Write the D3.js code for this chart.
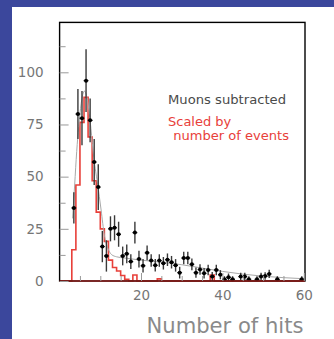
<!DOCTYPE html>
<html>
<head>
<meta charset="utf-8">
<script src="https://cdn.jsdelivr.net/npm/d3@7"></script>
<style>
  html, body { margin: 0; padding: 0; background: #3b479c; }
  svg { display: block; }
  .tick text { font-family: "DejaVu Sans", sans-serif; }
</style>
</head>
<body>
<svg id="chart" width="334" height="339"></svg>
<script>
// Bin centres (hit counts) of the background-subtracted distribution
const binCenters = [3.5,4.5,5.5,6.5,7.5,8.5,9.5,10.5,11.5,12.5,13.5,14.5,15.5,16.5,17.5,18.5,19.5,20.5,
  21.5,22.5,23.5,24.5,25.5,26.5,27.5,28.5,29.5,30.5,31.5,32.5,33.5,34.5,35.5,36.5,37.5,38.5,39.5,40.5,
  41.5,42.5,44.5,45.5,46.5,48.5,49.5,50.5,51.5,53.5,59.5];
// Entries per bin, muons subtracted
const muonSubtracted = [35,80,78,96,77,57,45,16.5,12,25,25.5,22.4,12,13,9.3,23.2,10.5,7.3,
  13.5,9.8,7.5,9.8,8.5,10.2,9,7.5,4,11,11,8,4,5.5,3.7,5.3,2.1,5.3,3,0.8,
  1.8,0.8,2.1,2.1,0.8,0.8,2.1,2.4,3.4,0.8,0.8];
// Statistical uncertainty per bin
const muonErrors = [7.5,12,13,15,10.5,11,11,7.5,7.5,6,6,6,4.5,4.5,3.5,5.2,4,3.2,
  3.5,3,3,3,3,3,3,3,2.8,3,3,2.8,2.5,2.5,2.5,2.5,2.2,2.5,2.2,1.5,
  1.8,1.5,1.8,1.8,1.5,1.5,1.8,1.8,2,1.5,1.5];

// Reference histogram scaled by number of events (unit-width bins starting at 0)
const scaledEdges = d3.range(0, 61);
const scaledCounts = [0,0,0,15,46,76,88,69,48,33,25,19,10,6.5,4.8,2.6,0.8,0,2.9,0,
  0,0,0,0,1,0,0,0,0,0,0,0,0,0,0,0,0,2.8,0,0,
  0,0,0,0,0,0,0,0,0,0,0,0,0,0,0,0,0,0,0,0];

// Fitted curve through the subtracted distribution
const fitX = [3.2,3.7,4.2,4.7,5.3,6.1,6.9,7.7,8.4,9.3,10.2,11.0,11.8,12.8,14.0,16,20,25,30,35,40,45,50,55,60];
const fitY = [30,46,62,74,85,91,86,73,59,47,34,22,16,12.6,11.6,11,10,9,7.8,6.2,4.6,3.3,2.3,1.6,1.1];

const yMajorTicks = [0,25,50,75,100];
const yMinorTicks = [12.5,37.5,62.5,87.5,112.5];
const xMajorTicks = [20,40,60];
const xMinorTicks = [5,10,15,25,30,35,45,50,55];

const legendLabels = ["Muons subtracted", "Scaled by", " number of events"];
const axisTitle = "Number of hits";

const svg = d3.select("#chart");
const W = 334, H = 339;

svg.append("rect").attr("x", 0).attr("y", 0).attr("width", W).attr("height", H).attr("fill", "#3b479c");
svg.append("rect").attr("x", 12).attr("y", 7).attr("width", W - 12).attr("height", H - 7).attr("fill", "#ffffff");

const frame = { left: 59.6, right: 305, top: 22.4, bottom: 281 };
const x = d3.scaleLinear().domain([0, 60]).range([59.6, 303.8]);
const y = d3.scaleLinear().domain([0, 100]).range([281, 72.3]);

const plot = svg.append("g");

// Red reference histogram (step outline)
const stepPts = [];
scaledCounts.forEach((c, i) => {
  stepPts.push([x(scaledEdges[i]), y(c)]);
  stepPts.push([x(scaledEdges[i + 1]), y(c)]);
});
plot.append("path")
  .attr("d", d3.line()(stepPts))
  .attr("fill", "none")
  .attr("stroke", "#e8403a")
  .attr("stroke-width", 1.6);

// Fit curve
plot.append("path")
  .attr("d", d3.line().x(d => x(d[0])).y(d => y(d[1])).curve(d3.curveMonotoneX)(fitX.map((v, i) => [v, fitY[i]])))
  .attr("fill", "none")
  .attr("stroke", "#a8a8a8")
  .attr("stroke-width", 1);

// Data points with error bars
const pts = binCenters.map((c, i) => ({ c, v: muonSubtracted[i], e: muonErrors[i] }));
const pg = plot.append("g").selectAll("g").data(pts).join("g");
pg.append("line")
  .attr("x1", d => x(d.c)).attr("x2", d => x(d.c))
  .attr("y1", d => y(d.v + d.e)).attr("y2", d => y(Math.max(0, d.v - d.e)))
  .attr("stroke", "#3a3a3a").attr("stroke-width", 1.4);
pg.append("line")
  .attr("x1", d => x(d.c) - 2.4).attr("x2", d => x(d.c) + 2.4)
  .attr("y1", d => y(d.v)).attr("y2", d => y(d.v))
  .attr("stroke", "#111").attr("stroke-width", 1.2);
pg.append("circle")
  .attr("cx", d => x(d.c)).attr("cy", d => y(d.v)).attr("r", 2)
  .attr("fill", "#000");

// Frame
svg.append("rect")
  .attr("x", frame.left).attr("y", frame.top)
  .attr("width", frame.right - frame.left).attr("height", frame.bottom - frame.top)
  .attr("fill", "none").attr("stroke", "#000").attr("stroke-width", 1.4);
// baseline of red histogram over the frame bottom
svg.append("line")
  .attr("x1", frame.left).attr("x2", frame.right)
  .attr("y1", frame.bottom).attr("y2", frame.bottom)
  .attr("stroke", "#8a1d1a").attr("stroke-width", 1.4);

// Y axis
const yAxisMajor = svg.append("g").attr("transform", `translate(${frame.left},0)`)
  .call(d3.axisLeft(y).tickValues(yMajorTicks).tickSizeInner(-9).tickSizeOuter(0).tickPadding(16).tickFormat(d3.format("d")));
const yAxisMinor = svg.append("g").attr("transform", `translate(${frame.left},0)`)
  .call(d3.axisLeft(y).tickValues(yMinorTicks).tickSizeInner(-6).tickSizeOuter(0).tickFormat(""));

// X axis
const xAxisMajor = svg.append("g").attr("transform", `translate(0,${frame.bottom})`)
  .call(d3.axisBottom(x).tickValues(xMajorTicks).tickSizeInner(-8).tickSizeOuter(0).tickPadding(9).tickFormat(d3.format("d")));
const xAxisMinor = svg.append("g").attr("transform", `translate(0,${frame.bottom})`)
  .call(d3.axisBottom(x).tickValues(xMinorTicks).tickSizeInner(-5).tickSizeOuter(0).tickFormat(""));

[yAxisMajor, yAxisMinor, xAxisMajor, xAxisMinor].forEach(g => {
  g.select(".domain").remove();
  g.selectAll(".tick line").attr("stroke", "#9a9a9a").attr("stroke-width", 1);
  g.selectAll(".tick text").attr("fill", "#767676").attr("font-size", 13.5);
});

// Legend text
const legendFont = "DejaVu Sans, sans-serif";
svg.append("text").attr("x", 168).attr("y", 104)
  .attr("font-family", legendFont).attr("font-size", 13)
  .attr("textLength", 118).attr("lengthAdjust", "spacingAndGlyphs")
  .attr("fill", "#4a4a4a").text(legendLabels[0]);
svg.append("text").attr("x", 168).attr("y", 126)
  .attr("font-family", legendFont).attr("font-size", 13)
  .attr("fill", "#e8403a").text(legendLabels[1]);
svg.append("text").attr("x", 169).attr("y", 139.5)
  .attr("font-family", legendFont).attr("font-size", 13)
  .attr("textLength", 120).attr("lengthAdjust", "spacingAndGlyphs")
  .attr("fill", "#e8403a").attr("xml:space", "preserve").style("white-space", "pre").text(legendLabels[2]);

// Axis title
svg.append("text").attr("x", 146.5).attr("y", 333)
  .attr("font-family", legendFont).attr("font-size", 21)
  .attr("textLength", 157).attr("lengthAdjust", "spacingAndGlyphs")
  .attr("fill", "#8a8a8a").text(axisTitle);
</script>
</body>
</html>
